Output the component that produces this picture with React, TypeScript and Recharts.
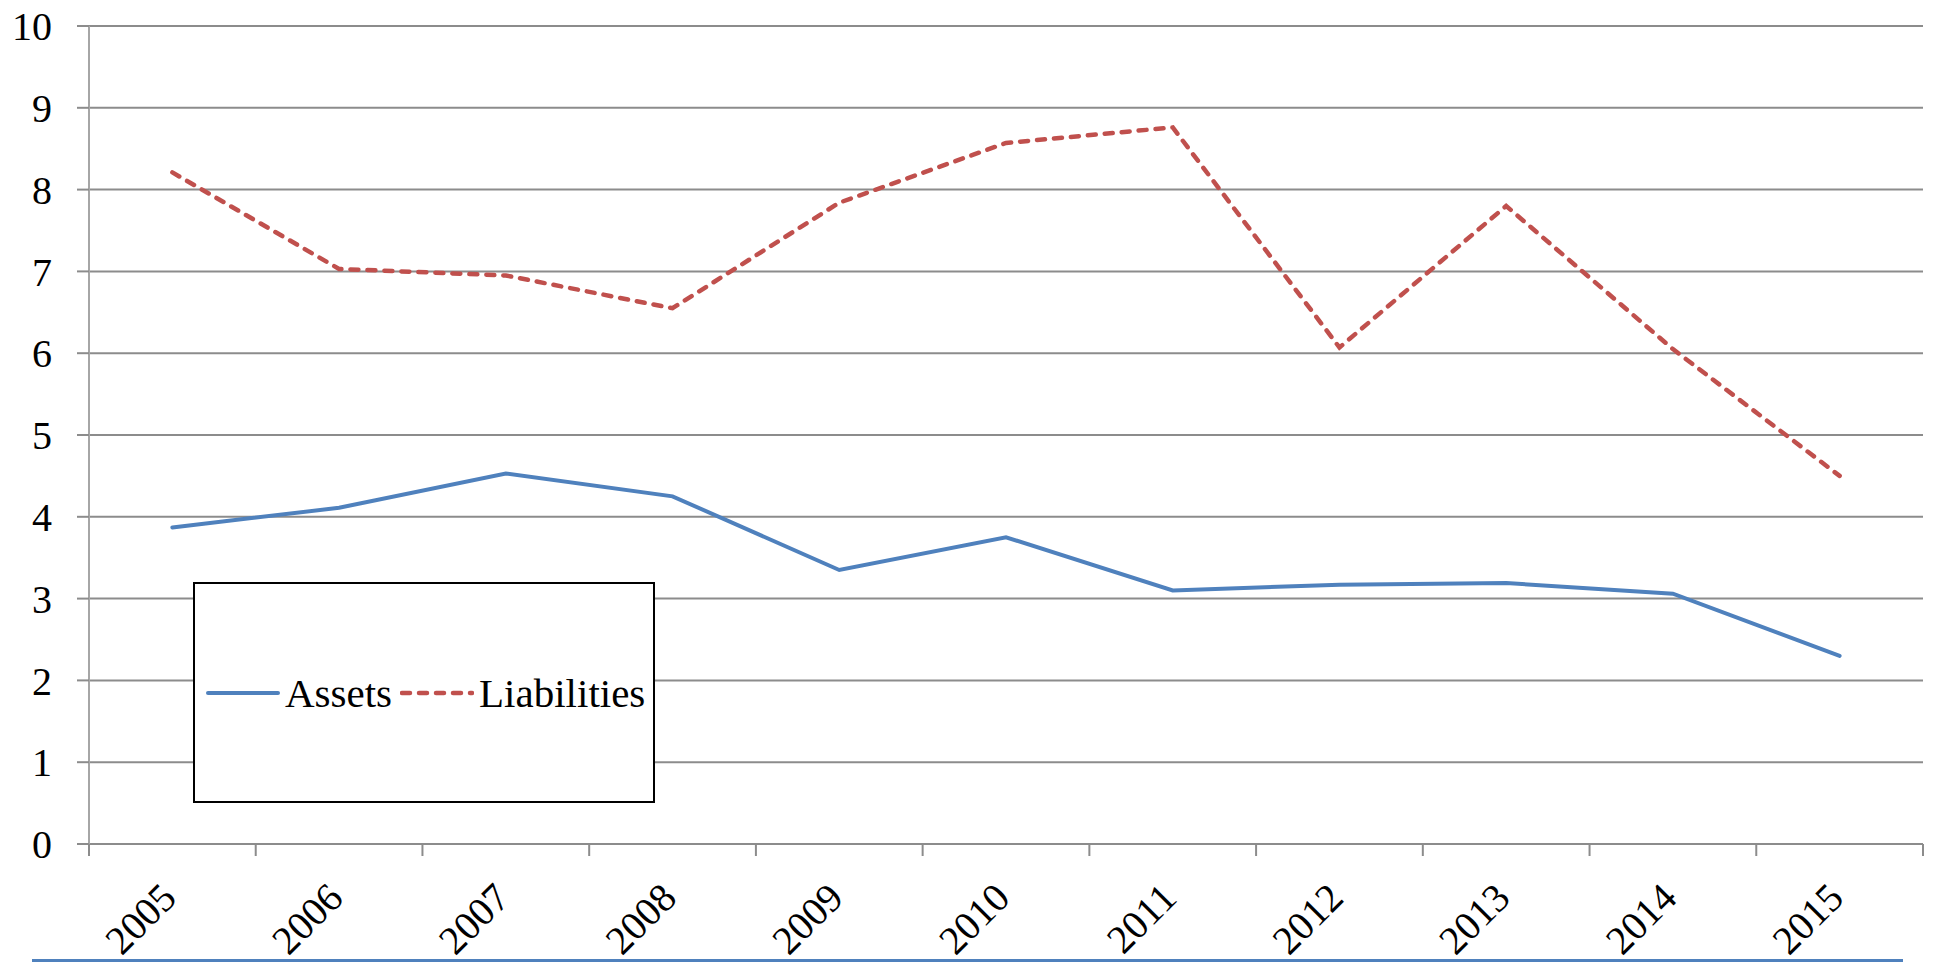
import React from "react";
import {
  LineChart,
  Line,
  XAxis,
  YAxis,
  CartesianGrid,
} from "recharts";

// Years on the horizontal axis
const years = [
  "2005", "2006", "2007", "2008", "2009", "2010",
  "2011", "2012", "2013", "2014", "2015",
];

// Series values
const assets = [3.87, 4.11, 4.53, 4.25, 3.35, 3.75, 3.1, 3.17, 3.19, 3.06, 2.3];
const liabilities = [8.21, 7.03, 6.95, 6.55, 7.84, 8.57, 8.76, 6.07, 7.8, 6.05, 4.5];

const yTicks = [0, 1, 2, 3, 4, 5, 6, 7, 8, 9, 10];

const WIDTH = 1933;
const HEIGHT = 962;
const MARGIN = { top: 26, right: 10, left: 0, bottom: 18 };
const Y_AXIS_WIDTH = 89;
const PLOT_WIDTH = WIDTH - MARGIN.left - MARGIN.right - Y_AXIS_WIDTH;
const BAND = PLOT_WIDTH / years.length;

const FONT = '"Liberation Serif", "Times New Roman", Times, serif';
const BLUE = "#4F81BD";
const RED = "#C0504D";
const GRID = "#8c8c8c";

// category slots sit between integer boundaries so tick marks fall between years
const chartData = years.map((year, i) => ({
  year,
  pos: i + 0.5,
  assets: assets[i],
  liabilities: liabilities[i],
}));

const boundaryTicks = years.map((_, i) => i).concat(years.length);

const series = [
  { key: "assets", name: "Assets", color: BLUE, width: 4, dash: undefined },
  { key: "liabilities", name: "Liabilities", color: RED, width: 4.5, dash: "8 9" },
];

const YearTick = (props: any) => {
  const { x, y, payload } = props;
  const idx = payload.value as number;
  if (idx >= years.length) return null;
  const tx = x + BAND / 2 + 6;
  const ty = y + 42;
  return (
    <text
      x={tx}
      y={ty}
      textAnchor="end"
      style={{ fontFamily: FONT, fontSize: 40 }}
      fill="#000"
      transform={`rotate(-45 ${tx} ${ty})`}
    >
      {years[idx]}
    </text>
  );
};

// Boxed legend sitting over the lower-left of the plot
const LegendBox = () => (
  <div
    style={{
      position: "absolute",
      left: 193,
      top: 582,
      width: 462,
      height: 221,
      boxSizing: "border-box",
      border: "2px solid #000",
      background: "#fff",
      display: "flex",
      alignItems: "center",
      paddingLeft: 11,
      fontFamily: FONT,
      fontSize: 41,
      color: "#000",
    }}
  >
    {series.map((s, i) => (
      <React.Fragment key={s.key}>
        <svg
          width={74}
          height={10}
          style={{ marginLeft: i === 0 ? 0 : 8, marginRight: 5 }}
        >
          <line
            x1={2}
            y1={5}
            x2={72}
            y2={5}
            stroke={s.color}
            strokeWidth={s.width}
            strokeDasharray={s.dash}
            strokeLinecap="round"
          />
        </svg>
        <span>{s.name}</span>
      </React.Fragment>
    ))}
  </div>
);

export default function App() {
  return (
    <div
      style={{
        position: "absolute",
        left: 0,
        top: 0,
        width: WIDTH,
        height: HEIGHT,
        background: "#fff",
      }}
    >
      <LineChart width={WIDTH} height={HEIGHT} data={chartData} margin={MARGIN}>
        <CartesianGrid vertical={false} stroke={GRID} strokeWidth={2} />
        <XAxis
          dataKey="pos"
          type="number"
          domain={[0, years.length]}
          ticks={boundaryTicks}
          interval={0}
          height={100}
          tickSize={12}
          axisLine={{ stroke: GRID, strokeWidth: 2 }}
          tickLine={{ stroke: GRID, strokeWidth: 2 }}
          tick={<YearTick />}
        />
        <YAxis
          domain={[0, 10]}
          ticks={yTicks}
          interval={0}
          width={Y_AXIS_WIDTH}
          tickSize={12}
          tickMargin={25}
          axisLine={{ stroke: "#a6a6a6", strokeWidth: 2 }}
          tickLine={{ stroke: GRID, strokeWidth: 2 }}
          tick={{ fontFamily: FONT, fontSize: 40, fill: "#000" }}
        />
        {series.map((s) => (
          <Line
            key={s.key}
            type="linear"
            dataKey={s.key}
            name={s.name}
            stroke={s.color}
            strokeWidth={s.width}
            strokeDasharray={s.dash}
            strokeLinecap="round"
            dot={false}
            isAnimationActive={false}
          />
        ))}
      </LineChart>
      <LegendBox />
      <div
        style={{
          position: "absolute",
          left: 32,
          top: 959,
          width: 1871,
          height: 3,
          background: BLUE,
        }}
      />
    </div>
  );
}
